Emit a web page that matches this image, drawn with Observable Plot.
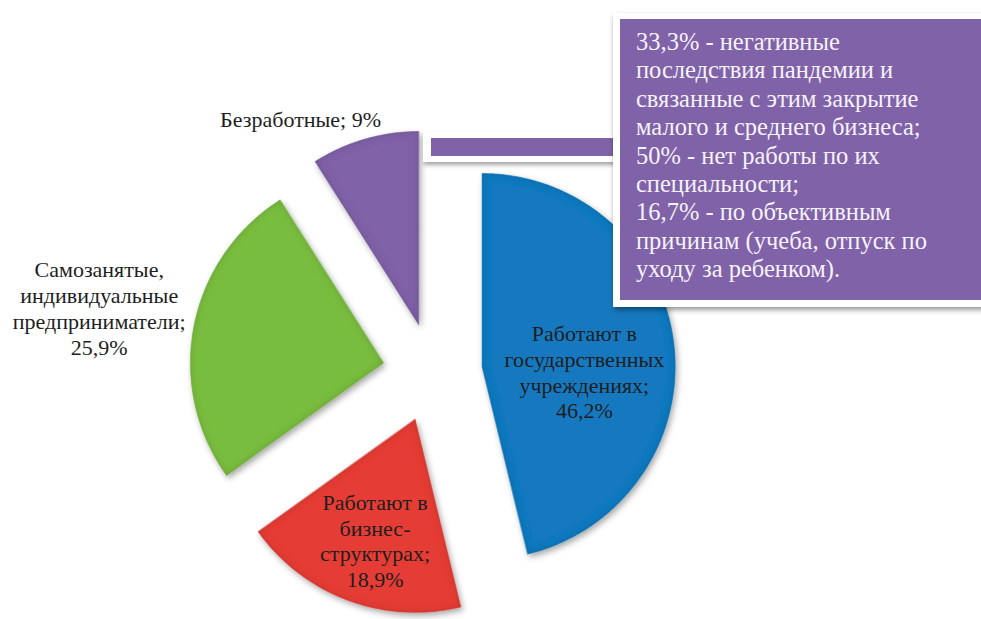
<!DOCTYPE html>
<html lang="ru">
<head>
<meta charset="utf-8">
<script src="https://cdn.jsdelivr.net/npm/d3@7"></script>
<script src="https://cdn.jsdelivr.net/npm/@observablehq/plot@0.6"></script>
<style>
  html, body { margin: 0; padding: 0; background: #fff; overflow: hidden; }
  #wrap { position: relative; width: 981px; height: 619px; overflow: hidden; }
  #chart { position: absolute; left: 0; top: 0; }
  .connector { position: absolute; left: 423px; top: 132px; width: 200px; height: 30px;
    background: #fff; box-shadow: 1px 3px 4px rgba(0,0,0,0.35); }
  .connector-in { position: absolute; left: 8px; top: 6px; right: 0; height: 18px; background: #8062a8; }
  .callout { position: absolute; left: 613px; top: 13px; width: 400px; height: 294px;
    background: #fff; box-shadow: 1px 3px 5px rgba(0,0,0,0.4); }
  .callout-in { position: absolute; left: 7px; top: 6px; right: 0; bottom: 7px; background: #8062a8;
    color: #f6f2fa; font-family: 'Liberation Serif', serif; font-size: 24.5px;
    line-height: 28.4px; padding: 9px 0 0 16px; box-sizing: border-box; white-space: pre; }
</style>
</head>
<body>
<div id="wrap">
  <div id="chart"></div>
  <div class="connector"><div class="connector-in"></div></div>
  <div class="callout"><div class="callout-in" id="calloutText"></div></div>
</div>
<script>
// ---- data ----
const categories = [
  "Работают в государственных учреждениях",
  "Работают в бизнес-структурах",
  "Самозанятые, индивидуальные предприниматели",
  "Безработные"
];
const shares = [46.2, 18.9, 25.9, 9];
const labelTexts = [
  "Работают в\nгосударственных\nучреждениях;\n46,2%",
  "Работают в\nбизнес-\nструктурах;\n18,9%",
  "Самозанятые,\nиндивидуальные\nпредприниматели;\n25,9%",
  "Безработные; 9%"
];
const calloutLines = [
  "33,3% - негативные",
  "последствия пандемии и",
  "связанные с этим закрытие",
  "малого и среднего бизнеса;",
  "50% - нет работы по их",
  "специальности;",
  "16,7% - по объективным",
  "причинам (учеба, отпуск по",
  "уходу за ребенком)."
];

// ---- style / layout ----
const colors = ["#1479c0", "#e53d36", "#79bd41", "#8062a8"];
const W = 981, H = 619;
const R = 193;               // pie radius in px
const CX = 432, CY = 372;    // pie centre in px
const explode = 50 / R;      // explode distance in radius units
const labelR = [0.53, 0.66, 1.50, 1.23];
const labelShift = [9.6, -2, 0, -13.6]; // degrees

document.getElementById("calloutText").textContent = calloutLines.join("\n");

const rad = d => d * Math.PI / 180;
const pie = d3.pie().sort(null).value(d => d)(shares);

const slicePts = [];
const labels = [];
pie.forEach((p, i) => {
  const a0 = p.startAngle, a1 = p.endAngle, m = (a0 + a1) / 2;
  const ox = explode * Math.sin(m), oy = explode * Math.cos(m);
  slicePts.push({cat: categories[i], x: ox, y: oy});
  const n = Math.max(8, Math.ceil((a1 - a0) / rad(1)));
  for (let k = 0; k <= n; k++) {
    const a = a0 + (a1 - a0) * k / n;
    slicePts.push({cat: categories[i], x: ox + Math.sin(a), y: oy + Math.cos(a)});
  }
  const la = m + rad(labelShift[i]);
  labels.push({cat: categories[i], text: labelTexts[i],
    x: ox + labelR[i] * Math.sin(la), y: oy + labelR[i] * Math.cos(la)});
});

const chart = Plot.plot({
  width: W, height: H,
  margin: 0,
  style: {fontFamily: "Liberation Serif"},
  x: {domain: [-CX / R, (W - CX) / R], range: [0, W], axis: null},
  y: {domain: [(CY - H) / R, CY / R], range: [H, 0], axis: null},
  color: {domain: categories, range: colors},
  marks: [
    Plot.line(slicePts, {x: "x", y: "y", z: "cat", fill: "cat", stroke: "cat",
      strokeWidth: 0.5, curve: "linear-closed"}),
    Plot.text(labels, {x: "x", y: "y", text: "text", fill: "#1e1e1e",
      fontSize: 22, lineHeight: 1.17, textAnchor: "middle",
      fontFamily: "Liberation Serif"})
  ]
});

// 3D-like bevel shading on the slices
const svgNS = "http://www.w3.org/2000/svg";
const defs = document.createElementNS(svgNS, "defs");
defs.innerHTML = `
<filter id="bevel" x="-20%" y="-20%" width="140%" height="140%">
  <feGaussianBlur in="SourceAlpha" stdDeviation="3" result="sb"/>
  <feOffset in="sb" dx="2" dy="3" result="so"/>
  <feFlood flood-color="#000" flood-opacity="0.35"/>
  <feComposite in2="so" operator="in" result="shadow"/>
  <feGaussianBlur in="SourceAlpha" stdDeviation="4" result="blur"/>
  <feComposite in="SourceAlpha" in2="blur" operator="out" result="edge"/>
  <feFlood flood-color="#000" flood-opacity="0.3"/>
  <feComposite in2="edge" operator="in" result="edgeShade"/>
  <feMerge>
    <feMergeNode in="shadow"/>
    <feMergeNode in="SourceGraphic"/>
    <feMergeNode in="edgeShade"/>
  </feMerge>
</filter>`;
chart.insertBefore(defs, chart.firstChild);
chart.querySelectorAll('g[aria-label="line"] path').forEach(p => p.setAttribute("filter", "url(#bevel)"));

document.getElementById("chart").appendChild(chart);
</script>
</body>
</html>
